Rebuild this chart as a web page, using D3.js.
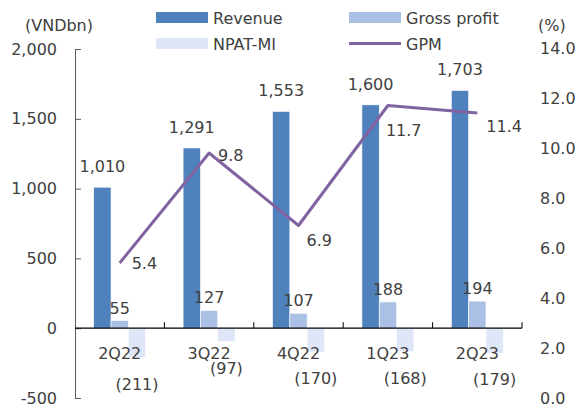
<!DOCTYPE html>
<html lang="en">
<head>
    <meta charset="UTF-8">
    <title>Revenue, gross profit, NPAT-MI and GPM</title>
    <script src="https://d3js.org/d3.v7.min.js"></script>
    <style>
        body { margin: 0; background: #fff; }
        text { font-family: "DejaVu Sans", Verdana, sans-serif; font-size: 16px; fill: #404040; }
    </style>
</head>
<body>
    <script>
        // Data
        const quarters = ["2Q22", "3Q22", "4Q22", "1Q23", "2Q23"];
        const revenue = [1010, 1291, 1553, 1600, 1703];
        const grossProfit = [55, 127, 107, 188, 194];
        const npatMi = [-211, -97, -170, -168, -179];
        const gpm = [5.4, 9.8, 6.9, 11.7, 11.4];

        const leftTicks = [-500, 0, 500, 1000, 1500, 2000];
        const leftTickLabels = ["-500", "0", "500", "1,000", "1,500", "2,000"];
        const rightTicks = [0, 2, 4, 6, 8, 10, 12, 14];
        const rightTickLabels = ["0.0", "2.0", "4.0", "6.0", "8.0", "10.0", "12.0", "14.0"];

        const seriesNames = ["Revenue", "Gross profit", "NPAT-MI"];
        const colors = { "Revenue": "#4f81bd", "Gross profit": "#aac1e5", "NPAT-MI": "#dee6f7", "GPM": "#8064a2" };

        // label placement for the GPM points (dx from point to text start, dy to text middle)
        const gpmLabelOffset = [[12, 0], [9, 2], [8, 14], [-2, 24], [9, 13]];

        const width = 580, height = 412;
        const svg = d3.select("body").append("svg")
            .attr("width", width)
            .attr("height", height);

        // scales
        const x = d3.scaleBand().domain(quarters).range([75, 522]).paddingInner(0).paddingOuter(0);
        const x1 = d3.scaleBand().domain(seriesNames).range([0, 52]);
        const groupOffset = (x.bandwidth() - 52) / 2;
        const y = d3.scaleLinear().domain([-500, 2000]).range([398, 49]);
        const y2 = d3.scaleLinear().domain([0, 14]).range([398, 48]);

        // left axis, ticks pointing inward
        const leftAxis = svg.append("g")
            .attr("transform", "translate(75,0)")
            .call(d3.axisLeft(y)
                .tickValues(leftTicks)
                .tickFormat((d, i) => leftTickLabels[i])
                .tickSizeInner(-6)
                .tickSizeOuter(0)
                .tickPadding(18));
        leftAxis.select(".domain").attr("stroke", "#595959");
        leftAxis.selectAll(".tick line").attr("stroke", "#595959");
        leftAxis.selectAll("text").attr("font-size", 16).attr("font-family", null);

        // right axis, labels only
        const rightAxis = svg.append("g")
            .attr("transform", "translate(540,0)")
            .call(d3.axisRight(y2)
                .tickValues(rightTicks)
                .tickFormat((d, i) => rightTickLabels[i])
                .tickSize(0)
                .tickPadding(0));
        rightAxis.select(".domain").remove();
        rightAxis.selectAll("text").attr("font-size", 16).attr("font-family", null);

        // axis titles
        svg.append("text").attr("x", 59).attr("y", 31).attr("text-anchor", "middle").text("(VNDbn)");
        svg.append("text").attr("x", 538).attr("y", 31).text("(%)");

        // bars
        const barData = [];
        quarters.forEach((q, i) => {
            barData.push({ q, s: "Revenue", v: revenue[i] });
            barData.push({ q, s: "Gross profit", v: grossProfit[i] });
            barData.push({ q, s: "NPAT-MI", v: npatMi[i] });
        });

        svg.append("g").selectAll("rect")
            .data(barData)
            .enter().append("rect")
            .attr("x", d => x(d.q) + groupOffset + x1(d.s))
            .attr("width", x1.bandwidth())
            .attr("y", d => y(Math.max(0, d.v)))
            .attr("height", d => Math.abs(y(d.v) - y(0)))
            .attr("fill", d => colors[d.s])
            .attr("stroke", "#fff")
            .attr("stroke-width", 0.6);

        // category axis
        const xAxis = svg.append("g");
        xAxis.append("line")
            .attr("x1", 75).attr("x2", 522)
            .attr("y1", y(0)).attr("y2", y(0))
            .attr("stroke", "#000").attr("stroke-width", 1.2);
        xAxis.selectAll(".xtick")
            .data(quarters)
            .enter().append("line")
            .attr("x1", d => x(d) + x.bandwidth()).attr("x2", d => x(d) + x.bandwidth())
            .attr("y1", y(0)).attr("y2", y(0) - 6)
            .attr("stroke", "#000");
        xAxis.selectAll(".xlabel")
            .data(quarters)
            .enter().append("text")
            .attr("x", d => x(d) + x.bandwidth() / 2)
            .attr("y", 359)
            .attr("text-anchor", "middle")
            .attr("fill", "#595959")
            .text(d => d);

        // bar labels
        const fmt = d3.format(",");
        svg.append("g").selectAll("text")
            .data(barData)
            .enter().append("text")
            .attr("x", d => x(d.q) + groupOffset + x1(d.s) + x1.bandwidth() / 2)
            .attr("y", d => {
                if (d.s === "Revenue") return y(d.v) - 15;
                if (d.s === "Gross profit") return y(d.v) - 7;
                return y(d.v) + 32;
            })
            .attr("text-anchor", "middle")
            .text(d => d.v < 0 ? "(" + fmt(-d.v) + ")" : fmt(d.v));

        // GPM line
        const line = d3.line()
            .x((d, i) => x(quarters[i]) + x.bandwidth() / 2)
            .y(d => y2(d));

        svg.append("path")
            .datum(gpm)
            .attr("d", line)
            .attr("fill", "none")
            .attr("stroke", colors["GPM"])
            .attr("stroke-width", 3)
            .attr("stroke-linejoin", "round");

        svg.append("g").selectAll("text")
            .data(gpm)
            .enter().append("text")
            .attr("x", (d, i) => x(quarters[i]) + x.bandwidth() / 2 + gpmLabelOffset[i][0])
            .attr("y", (d, i) => y2(d) + gpmLabelOffset[i][1] + 6)
            .text(d => d.toFixed(1));

        // legend
        const legendItems = [
            { name: "Revenue", lx: 156, ly: 12 },
            { name: "Gross profit", lx: 349, ly: 12 },
            { name: "NPAT-MI", lx: 156, ly: 38 },
            { name: "GPM", lx: 349, ly: 38 }
        ];
        const legend = svg.append("g");
        legendItems.forEach(item => {
            if (item.name === "GPM") {
                legend.append("line")
                    .attr("x1", item.lx).attr("x2", item.lx + 52)
                    .attr("y1", item.ly + 5.5).attr("y2", item.ly + 5.5)
                    .attr("stroke", colors["GPM"]).attr("stroke-width", 3);
            } else {
                legend.append("rect")
                    .attr("x", item.lx).attr("y", item.ly)
                    .attr("width", 52).attr("height", 11)
                    .attr("fill", colors[item.name]);
            }
            legend.append("text")
                .attr("x", item.lx + 57)
                .attr("y", item.ly + 12)
                .text(item.name);
        });
    </script>
</body>
</html>
